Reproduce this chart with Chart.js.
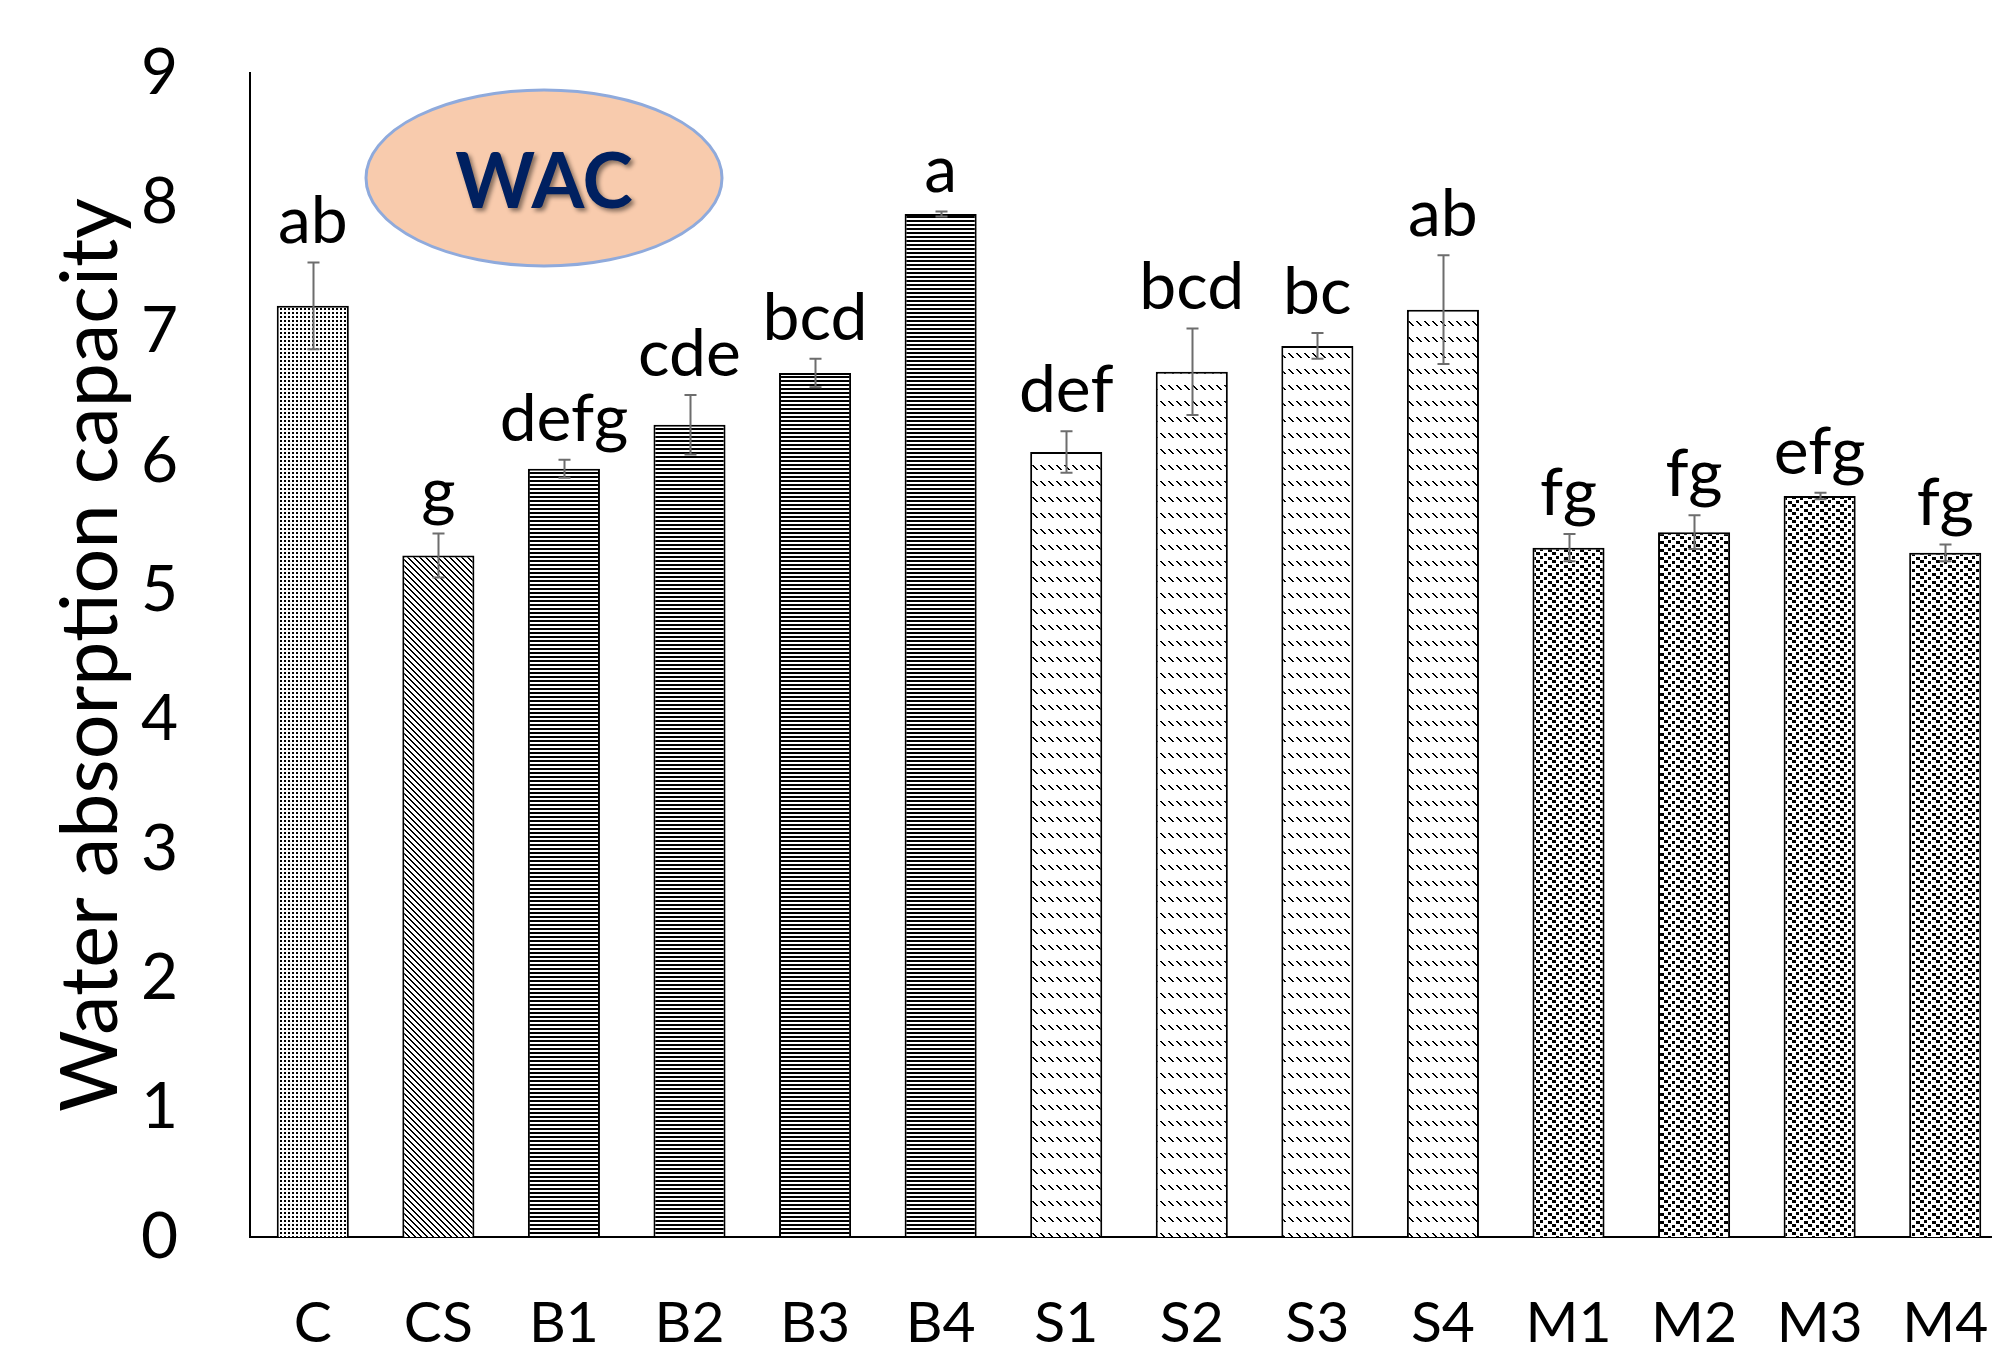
<!DOCTYPE html>
<html>
<head>
<meta charset="utf-8">
<title>Water absorption capacity</title>
<script src="https://cdn.jsdelivr.net/npm/chart.js@4.4.1/dist/chart.umd.min.js"></script>
<style>
  html, body { margin: 0; padding: 0; background: #ffffff; overflow: hidden; width: 1992px; height: 1347px; }
  #wrap { position: absolute; left: 0; top: 0; width: 2010px; height: 1347px; }
  canvas { display: block; }
</style>
</head>
<body>
<div id="wrap"><canvas id="wacChart" width="2010" height="1347"></canvas></div>
<script>
// Treatments on the x axis
const categories = ['C', 'CS', 'B1', 'B2', 'B3', 'B4', 'S1', 'S2', 'S3', 'S4', 'M1', 'M2', 'M3', 'M4'];
// Mean water absorption capacity per treatment
const wacMeans = [7.20, 5.27, 5.94, 6.28, 6.68, 7.91, 6.07, 6.69, 6.89, 7.17, 5.33, 5.45, 5.73, 5.29];
// Standard deviation shown as error bars
const wacErrors = [0.335, 0.17, 0.07, 0.23, 0.11, 0.02, 0.16, 0.335, 0.10, 0.42, 0.105, 0.13, 0.025, 0.065];
// Significance letters above each bar
const groupLetters = ['ab', 'g', 'defg', 'cde', 'bcd', 'a', 'def', 'bcd', 'bc', 'ab', 'fg', 'fg', 'efg', 'fg'];
// Fill pattern used for each bar
const fillKinds = ['dots', 'diag', 'hlines', 'hlines', 'hlines', 'hlines',
                   'dashdiag', 'dashdiag', 'dashdiag', 'dashdiag',
                   'confetti', 'confetti', 'confetti', 'confetti'];
// Y axis range and step
const yMin = 0, yMax = 9, yStep = 1;
const yTitle = 'Water absorption capacity';
const badgeText = 'WAC';

const FONT = 'Lato, "Open Sans", "DejaVu Sans", sans-serif';

function makePattern(kind) {
  const t = document.createElement('canvas');
  const g = t.getContext('2d');
  let w = 4, h = 4;
  const px = (x, y, ww, hh) => {
    // draw with wrap-around inside the tile
    for (let ox = -w; ox <= w; ox += w) {
      for (let oy = -h; oy <= h; oy += h) g.fillRect(x + ox, y + oy, ww, hh);
    }
  };
  if (kind === 'dots') { w = 4; h = 4; }
  else if (kind === 'diag') { w = 6; h = 6; }
  else if (kind === 'hlines') { w = 4; h = 4; }
  else if (kind === 'dashdiag') { w = 8; h = 16; }
  else if (kind === 'confetti') { w = 16; h = 8; }
  t.width = w; t.height = h;
  g.fillStyle = '#ffffff';
  g.fillRect(0, 0, w, h);
  g.fillStyle = '#000000';
  if (kind === 'dots') {
    px(0, 0, 2, 2);
  } else if (kind === 'diag') {
    for (let i = 0; i < 6; i++) px(i, i, 2, 1);
  } else if (kind === 'hlines') {
    px(0, 0, 4, 2);
  } else if (kind === 'dashdiag') {
    for (let i = 0; i < 5; i++) px(i, i + 1, 2, 1);
  } else if (kind === 'confetti') {
    px(0, 0, 4, 3);
    px(8, 1, 3, 3);
    px(4, 4, 3, 3);
    px(12, 5, 4, 3);
  }
  return g.createPattern(t, 'repeat');
}

const overlayPlugin = {
  id: 'wacOverlay',
  afterDatasetsDraw(chart) {
    const { ctx, scales: { x, y } } = chart;
    ctx.save();
    // error bars
    ctx.strokeStyle = '#6d6d6d';
    ctx.lineWidth = 2;
    wacMeans.forEach((m, i) => {
      const cx = Math.round(x.getPixelForValue(i)) + 0.5;
      const yt = y.getPixelForValue(m + wacErrors[i]);
      const yb = y.getPixelForValue(m - wacErrors[i]);
      ctx.beginPath();
      ctx.moveTo(cx, yt); ctx.lineTo(cx, yb);
      ctx.moveTo(cx - 6, yt); ctx.lineTo(cx + 6, yt);
      ctx.moveTo(cx - 6, yb); ctx.lineTo(cx + 6, yb);
      ctx.stroke();
    });
    // significance letters
    ctx.fillStyle = '#000000';
    ctx.font = '66px ' + FONT;
    ctx.textAlign = 'center';
    ctx.textBaseline = 'alphabetic';
    wacMeans.forEach((m, i) => {
      const cx = x.getPixelForValue(i);
      const yt = y.getPixelForValue(m + wacErrors[i]);
      ctx.fillText(groupLetters[i], cx, yt - 19);
    });
    ctx.restore();
  },
  afterDraw(chart) {
    const { ctx, chartArea } = chart;
    const cx = chartArea.left + 294;
    const cy = chartArea.top + 105;
    ctx.save();
    ctx.beginPath();
    ctx.ellipse(cx, cy, 178, 88, 0, 0, Math.PI * 2);
    ctx.fillStyle = '#f8cbad';
    ctx.fill();
    ctx.lineWidth = 3;
    ctx.strokeStyle = '#8faadc';
    ctx.stroke();
    ctx.font = 'bold 76px ' + FONT;
    ctx.textAlign = 'center';
    ctx.textBaseline = 'alphabetic';
    ctx.shadowColor = 'rgba(0,0,0,0.45)';
    ctx.shadowBlur = 4;
    ctx.shadowOffsetX = 3;
    ctx.shadowOffsetY = 3;
    ctx.fillStyle = '#002060';
    ctx.fillText(badgeText, cx, cy + 30);
    ctx.restore();
  }
};

function build() {
  const ctx = document.getElementById('wacChart').getContext('2d');
  new Chart(ctx, {
    type: 'bar',
    data: {
      labels: categories,
      datasets: [{
        data: wacMeans,
        backgroundColor: fillKinds.map(makePattern),
        borderColor: '#000000',
        borderWidth: 2,
        borderSkipped: 'start',
        barPercentage: 0.574,
        categoryPercentage: 1.0
      }]
    },
    options: {
      responsive: false,
      animation: false,
      devicePixelRatio: 1,
      layout: { padding: { top: 73, right: 2, bottom: 0, left: 0 } },
      plugins: { legend: { display: false }, tooltip: { enabled: false } },
      scales: {
        x: {
          grid: { display: false, drawTicks: false },
          border: { display: true, color: '#000000', width: 2 },
          ticks: { font: { family: FONT, size: 57 }, color: '#000000', padding: 52, maxRotation: 0, autoSkip: false },
          afterFit(s) { s.height = 110; s.paddingLeft = 0; s.paddingRight = 0; }
        },
        y: {
          min: yMin, max: yMax,
          grid: { display: false, drawTicks: false },
          border: { display: true, color: '#000000', width: 2 },
          ticks: { stepSize: yStep, font: { family: FONT, size: 64 }, color: '#000000', padding: 72 },
          title: { display: true, text: yTitle, font: { family: FONT, size: 79 }, color: '#000000', padding: { top: 44, bottom: 0 } },
          afterFit(s) { s.width = 250; s.paddingTop = 0; s.paddingBottom = 0; }
        }
      }
    },
    plugins: [overlayPlugin]
  });
}

const fontLoads = ['66px Lato', 'bold 76px Lato', '79px Lato'].map(f => document.fonts.load(f).catch(() => null));
Promise.all(fontLoads).then(build, build);
</script>
</body>
</html>
